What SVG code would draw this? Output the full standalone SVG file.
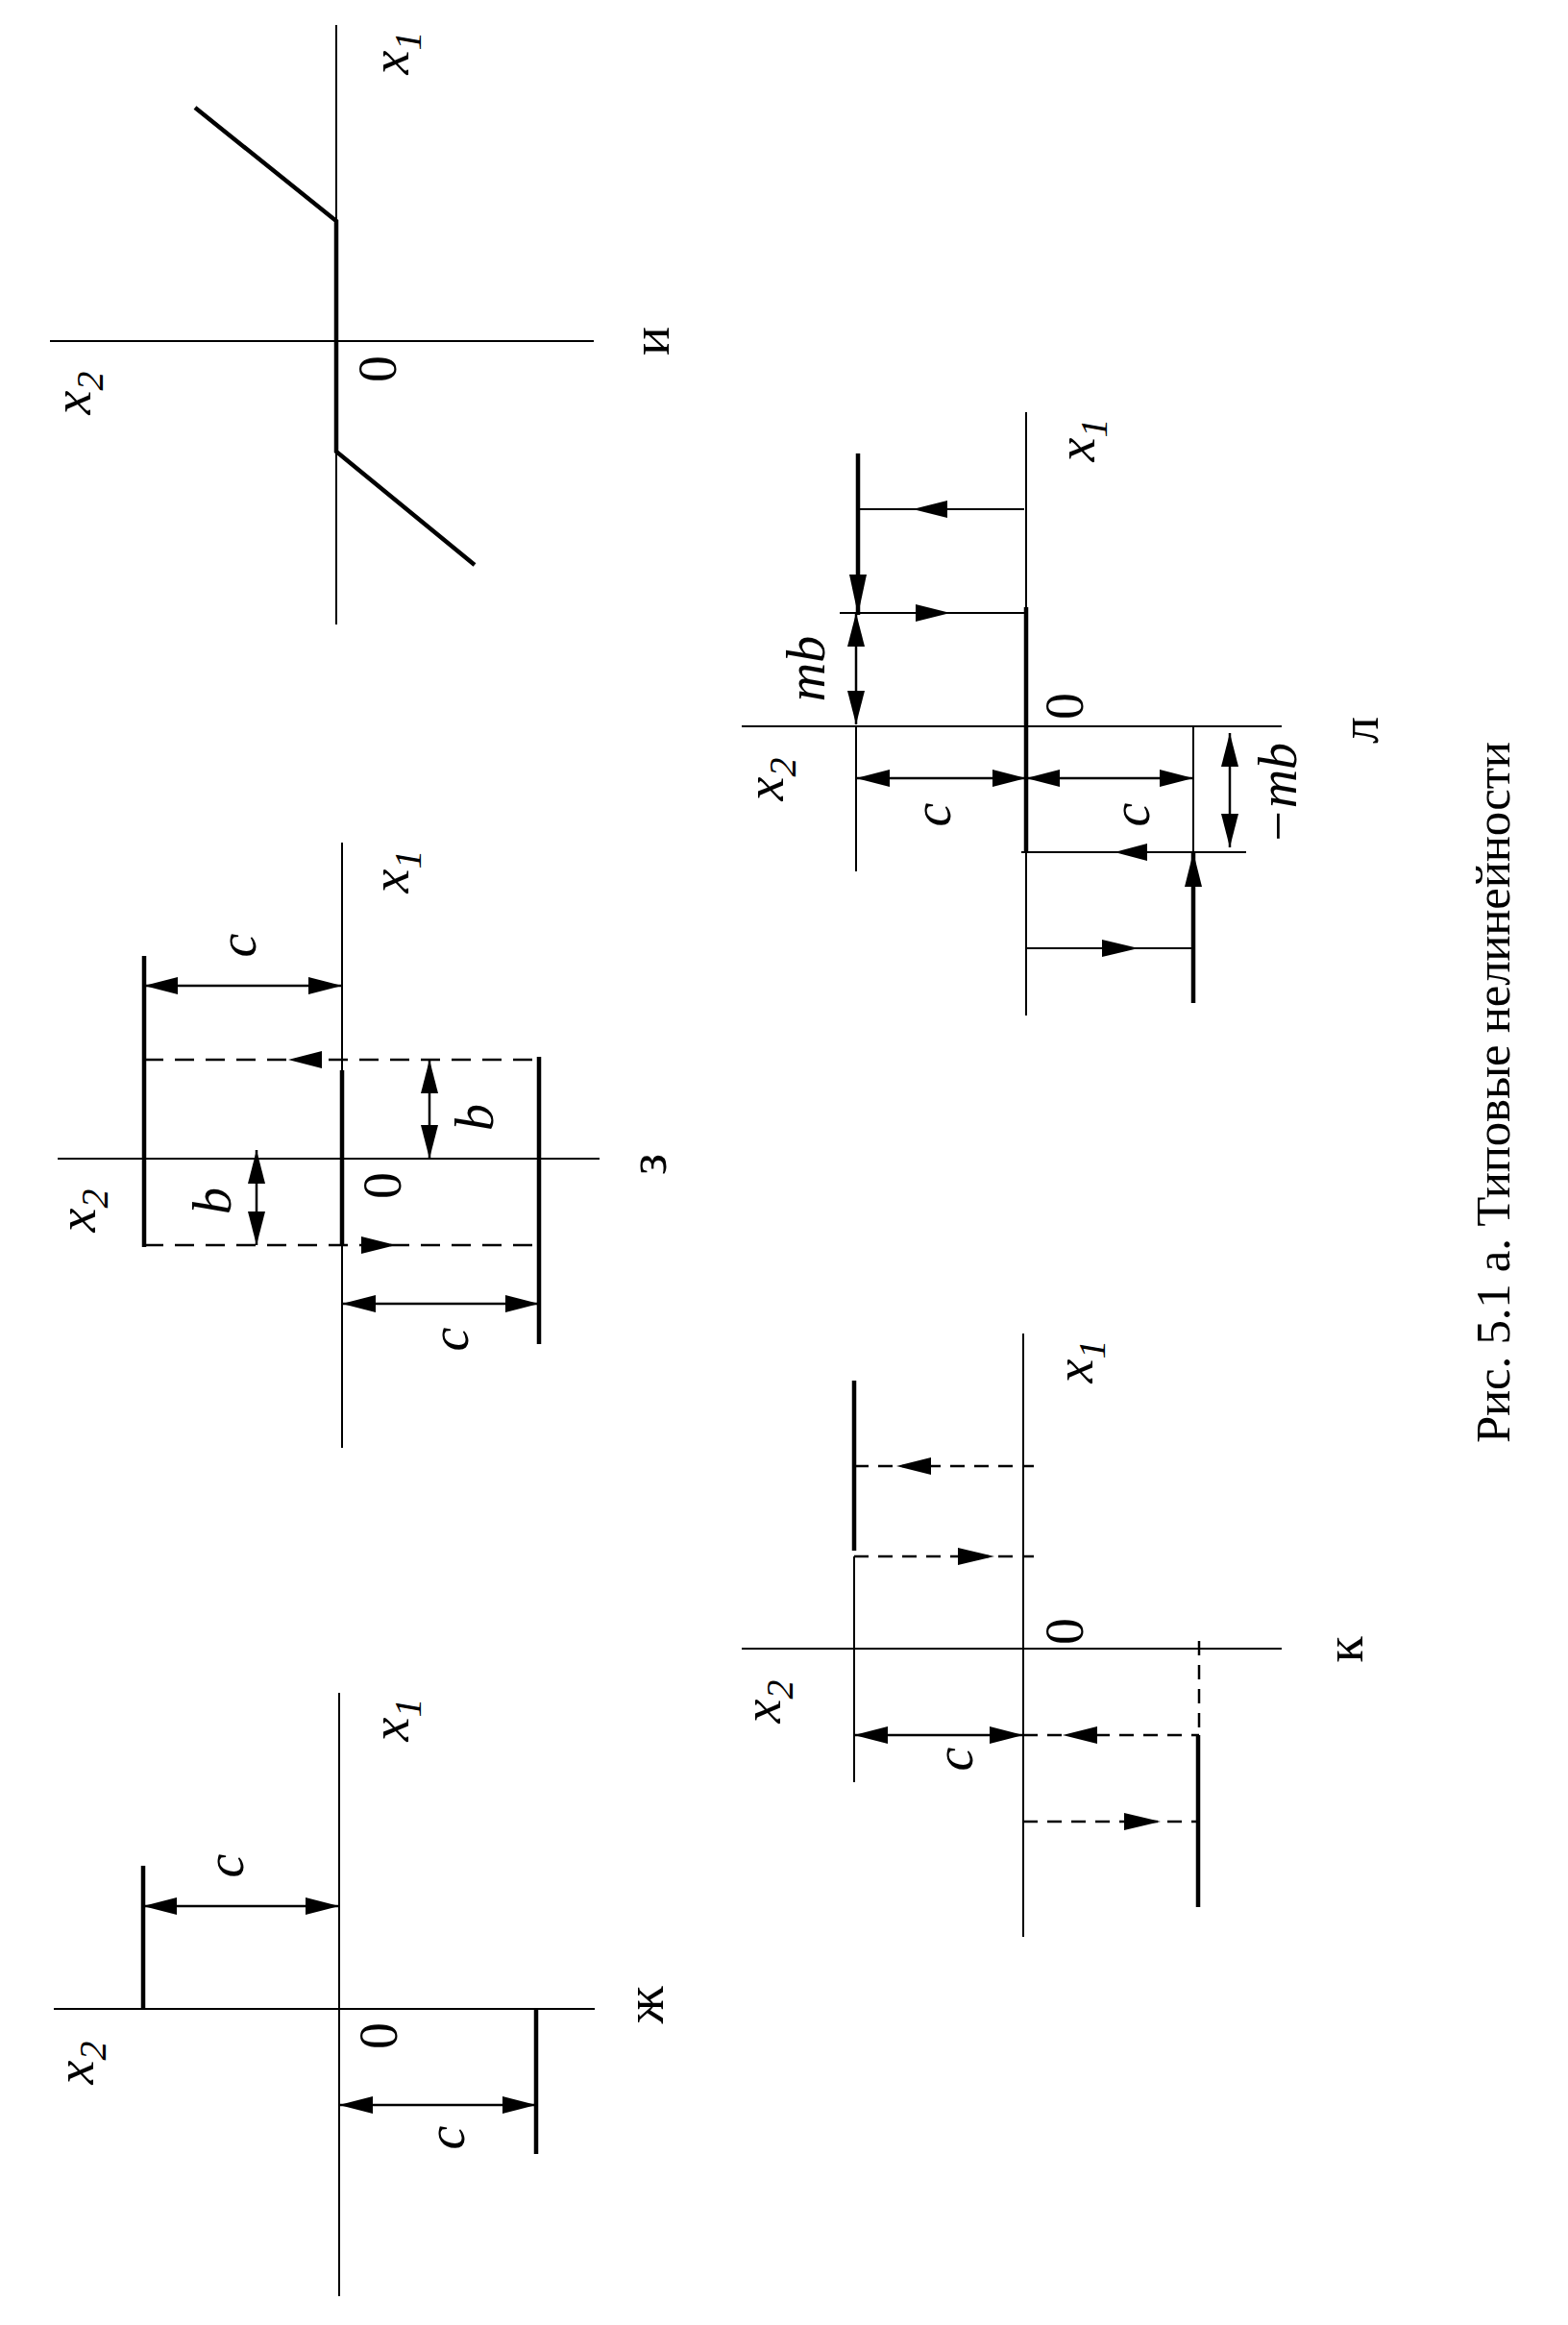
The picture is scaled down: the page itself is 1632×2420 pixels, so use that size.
<svg xmlns="http://www.w3.org/2000/svg" width="1632" height="2420" viewBox="0 0 1632 2420">
<style>
line, polyline { stroke:#000; fill:none; stroke-width:2; stroke-linecap:butt; }
.th { stroke-width:4.5; }
.dim { stroke-width:2.5; }
.dz { stroke-dasharray:20 12; stroke-width:2.5; }
.dk { stroke-dasharray:15 10; stroke-width:2.5; }
.ah { fill:#000; stroke:none; }
text { font-family:"Liberation Serif","Times New Roman",serif; font-size:56px; fill:#000; text-anchor:middle; }
.i { font-style:italic; }
.sub { font-size:40px; }
.cap { font-size:51px; text-anchor:start; }
</style>
<defs>
<marker id="ah" viewBox="0 0 35 18" refX="35" refY="9" markerWidth="35" markerHeight="18" markerUnits="userSpaceOnUse" orient="auto-start-reverse">
<path d="M0,0 L35,9 L0,18 z" fill="#000"/>
</marker>
</defs>
<rect width="1632" height="2420" fill="#fff"/>

<g id="panel-i">
<line x1="350" y1="26" x2="350" y2="650"/>
<line x1="52" y1="355" x2="618" y2="355"/>
<polyline class="th" points="203,112 350,230 350,470 494,588"/>
<text class="i" transform="translate(425,55) rotate(-90)">x<tspan class="sub" dy="13">1</tspan></text>
<text class="i" transform="translate(94,409) rotate(-90)">x<tspan class="sub" dy="13">2</tspan></text>
<text transform="translate(412,384) rotate(-90)">0</text>
<text transform="translate(696,355) rotate(-90)">и</text>
</g>

<g id="panel-z">
<line x1="356" y1="877" x2="356" y2="1507"/>
<line x1="60" y1="1206" x2="624" y2="1206"/>
<line class="th" x1="150" y1="995" x2="150" y2="1298"/>
<line class="th" x1="356" y1="1114" x2="356" y2="1296"/>
<line class="th" x1="561" y1="1100" x2="561" y2="1399"/>
<line class="dz" x1="150" y1="1103" x2="561" y2="1103"/>
<line class="dz" x1="150" y1="1296" x2="561" y2="1296"/>
<text class="i" transform="translate(425,907) rotate(-90)">x<tspan class="sub" dy="13">1</tspan></text>
<text class="i" transform="translate(99,1260) rotate(-90)">x<tspan class="sub" dy="13">2</tspan></text>
<text transform="translate(417,1234) rotate(-90)">0</text>
<text transform="translate(693,1212) rotate(-90)">з</text>
<text class="i" transform="translate(266,984) rotate(-90)">c</text>
<text class="i" transform="translate(240,1250) rotate(-90)">b</text>
<text class="i" transform="translate(513,1163) rotate(-90)">b</text>
<text class="i" transform="translate(487,1394) rotate(-90)">c</text>
</g>

<g id="panel-zh">
<line x1="353" y1="1762" x2="353" y2="2390"/>
<line x1="56" y1="2091" x2="619" y2="2091"/>
<line class="th" x1="149" y1="1942" x2="149" y2="2091"/>
<line class="th" x1="558" y1="2091" x2="558" y2="2242"/>
<text class="i" transform="translate(425,1790) rotate(-90)">x<tspan class="sub" dy="13">1</tspan></text>
<text class="i" transform="translate(97,2147) rotate(-90)">x<tspan class="sub" dy="13">2</tspan></text>
<text transform="translate(413,2119) rotate(-90)">0</text>
<text transform="translate(690,2087) rotate(-90)">ж</text>
<text class="i" transform="translate(253,1942) rotate(-90)">c</text>
<text class="i" transform="translate(483,2225) rotate(-90)">c</text>
</g>

<g id="panel-l">
<line x1="1068" y1="429" x2="1068" y2="1057"/>
<line x1="772" y1="756" x2="1334" y2="756"/>
<line class="th" x1="1068" y1="632" x2="1068" y2="887"/>
<line class="th" x1="893" y1="472" x2="893" y2="640"/>
<line class="th" x1="1242" y1="887" x2="1242" y2="1044"/>
<line x1="893" y1="530" x2="1066" y2="530"/>
<line x1="874" y1="638" x2="1068" y2="638"/>
<line x1="891" y1="756" x2="891" y2="907"/>
<line x1="1242" y1="756" x2="1242" y2="887"/>
<line x1="1063" y1="887" x2="1297" y2="887"/>
<line x1="1068" y1="987" x2="1242" y2="987"/>
<text class="i" transform="translate(1139,458) rotate(-90)">x<tspan class="sub" dy="13">1</tspan></text>
<text class="i" transform="translate(815,811) rotate(-90)">x<tspan class="sub" dy="13">2</tspan></text>
<text transform="translate(1127,735) rotate(-90)">0</text>
<text transform="translate(1434,760) rotate(-90)">л</text>
<text class="i" transform="translate(858,696) rotate(-90)">mb</text>
<text class="i" transform="translate(989,848) rotate(-90)">c</text>
<text class="i" transform="translate(1196,848) rotate(-90)">c</text>
<text class="i" transform="translate(1349,826) rotate(-90)">−mb</text>
</g>

<g id="panel-k">
<line x1="1065" y1="1388" x2="1065" y2="2016"/>
<line x1="772" y1="1716" x2="1334" y2="1716"/>
<line class="th" x1="889" y1="1437" x2="889" y2="1614"/>
<line class="th" x1="1247" y1="1806" x2="1247" y2="1985"/>
<line class="dk" x1="889" y1="1526" x2="1076" y2="1526"/>
<line class="dk" x1="889" y1="1620" x2="1076" y2="1620"/>
<line class="dk" x1="1248" y1="1708" x2="1248" y2="1806"/>
<line class="dk" x1="1065" y1="1806" x2="1248" y2="1806"/>
<line class="dk" x1="1065" y1="1896" x2="1248" y2="1896"/>
<line x1="889" y1="1620" x2="889" y2="1855"/>
<text class="i" transform="translate(1137,1417) rotate(-90)">x<tspan class="sub" dy="13">1</tspan></text>
<text class="i" transform="translate(812,1771) rotate(-90)">x<tspan class="sub" dy="13">2</tspan></text>
<text transform="translate(1127,1698) rotate(-90)">0</text>
<text transform="translate(1418,1717) rotate(-90)">к</text>
<text class="i" transform="translate(1012,1831) rotate(-90)">c</text>
</g>

<g id="connectors">
<line class="dim" x1="150" y1="1026" x2="356" y2="1026" marker-start="url(#ah)" marker-end="url(#ah)"/>
<polygon class="ah" points="300,1103 335,1094 335,1112"/>
<polygon class="ah" points="412,1296 376,1287 376,1305"/>
<line class="dim" x1="267" y1="1197" x2="267" y2="1296" marker-start="url(#ah)" marker-end="url(#ah)"/>
<line class="dim" x1="447" y1="1103" x2="447" y2="1206" marker-start="url(#ah)" marker-end="url(#ah)"/>
<line class="dim" x1="356" y1="1357" x2="561" y2="1357" marker-start="url(#ah)" marker-end="url(#ah)"/>
<line class="dim" x1="149" y1="1984" x2="353" y2="1984" marker-start="url(#ah)" marker-end="url(#ah)"/>
<line class="dim" x1="353" y1="2191" x2="558" y2="2191" marker-start="url(#ah)" marker-end="url(#ah)"/>
<polygon class="ah" points="893,640 884,598 902,598"/>
<polygon class="ah" points="950,530 986,521 986,539"/>
<polygon class="ah" points="989,638 953,629 953,647"/>
<polygon class="ah" points="1160,887 1194,878 1194,896"/>
<polygon class="ah" points="1242,887 1233,923 1251,923"/>
<polygon class="ah" points="1185,987 1147,978 1147,996"/>
<line class="dim" x1="891" y1="638" x2="891" y2="754" marker-start="url(#ah)" marker-end="url(#ah)"/>
<line class="dim" x1="891" y1="810" x2="1068" y2="810" marker-start="url(#ah)" marker-end="url(#ah)"/>
<line class="dim" x1="1068" y1="810" x2="1242" y2="810" marker-start="url(#ah)" marker-end="url(#ah)"/>
<line class="dim" x1="1280" y1="763" x2="1280" y2="882" marker-start="url(#ah)" marker-end="url(#ah)"/>
<polygon class="ah" points="933,1526 969,1517 969,1535"/>
<polygon class="ah" points="1035,1620 997,1611 997,1629"/>
<polygon class="ah" points="1106,1806 1142,1797 1142,1815"/>
<polygon class="ah" points="1208,1896 1170,1887 1170,1905"/>
<line class="dim" x1="889" y1="1806" x2="1065" y2="1806" marker-start="url(#ah)" marker-end="url(#ah)"/>
</g>

<g id="caption">
<text class="cap" transform="translate(1571,1502) rotate(-90)" textLength="730" lengthAdjust="spacing">Рис. 5.1 а. Типовые нелинейности</text>
</g>
</svg>
